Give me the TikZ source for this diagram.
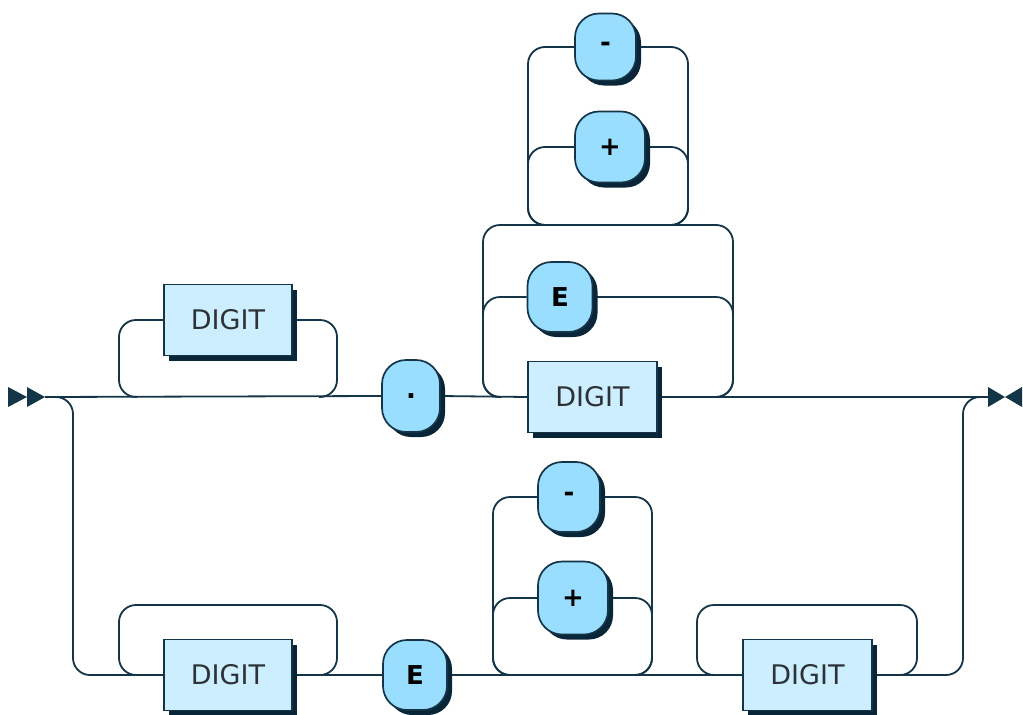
\documentclass[tikz,border=0pt]{standalone}
\usepackage{fontspec}
\setmainfont{DejaVu Sans}
\usetikzlibrary{shadows}
\definecolor{lc}{RGB}{20,52,72}
\definecolor{shc}{RGB}{8,38,56}
\definecolor{termfill}{RGB}{153,221,255}
\definecolor{ntfill}{RGB}{204,238,255}
\definecolor{ntext}{RGB}{45,50,55}
\pgfdeclarelayer{bg}
\pgfsetlayers{bg,main}
\tikzset{
  term/.style={draw=lc, line width=1.7pt, fill=termfill, rounded corners=24pt,
    minimum height=70pt, inner sep=0pt, text=black,
    font=\fontsize{26}{30}\selectfont\bfseries,
    drop shadow={shadow xshift=5pt,shadow yshift=-5pt,fill=shc,opacity=1}},
  nterm/.style={draw=lc, line width=1.7pt, fill=ntfill, rectangle,
    minimum width=128pt, minimum height=71pt, inner sep=0pt, text=ntext,
    font=\fontsize{27}{30}\selectfont,
    drop shadow={shadow xshift=5pt,shadow yshift=-5pt,fill=shc,opacity=1}},
  rail/.style={draw=lc, line width=1.8pt, rounded corners=17pt},
  tip/.style={fill=lc, draw=none}
}
\begin{document}
\begin{tikzpicture}[x=1pt,y=-1pt]
\useasboundingbox (0,0) rectangle (1023,715);
% nodes
\node[nterm] (d1) at (228,320) {DIGIT};
\node[term, minimum width=58pt, minimum height=72pt] (dot) at (411,396) {.};
\node[term, minimum width=65pt] (e1) at (560,297) {E};
\node[nterm, minimum width=129pt] (d2) at (592.5,397) {DIGIT};
\node[term, minimum width=61pt, minimum height=67pt] (m1) at (605.5,47) {-};
\node[term, minimum width=70pt, minimum height=71pt] (p1) at (610,147) {+};
\node[nterm] (d3) at (228,675) {DIGIT};
\node[term, minimum width=64pt] (e2) at (415,675) {E};
\node[term, minimum width=62pt] (m2) at (569,497) {-};
\node[term, minimum width=70pt, minimum height=73pt] (p2) at (573,598) {+};
\node[nterm, minimum width=129pt] (d4) at (807.5,675) {DIGIT};
\coordinate (start) at (45,397);
\coordinate (end) at (988,397);
% start / end marks
\fill[tip] (8,387) -- (27,397) -- (8,407) -- cycle;
\fill[tip] (27,387) -- (45,397) -- (27,407) -- cycle;
\fill[tip] (988,387) -- (1005,397) -- (988,407) -- cycle;
\fill[tip] (1022,387) -- (1005,397) -- (1022,407) -- cycle;
\begin{pgfonlayer}{bg}
% main line
\draw[rail] (start) -- (dot.west);
\draw[rail] (dot.east) -- (d2.west);
\draw[rail] (d2.east) -- (end);
% loop over first DIGIT
\draw[rail] (137,397) -- (119,397) -- (119,320) -- (d1.west);
\draw[rail] (d1.east) -- (337,320) -- (337,397) -- (319,397);
% outer group after dot
\draw[rail] (501,397) -- (483,397) -- (483,225) -- (733,225) -- (733,397) -- (715,397);
\draw[rail] (501,397) -- (483,397) -- (483,297) -- (e1.west);
\draw[rail] (e1.east) -- (733,297) -- (733,397) -- (715,397);
% upper sign group
\draw[rail] (546,225) -- (528,225) -- (528,47) -- (m1.west);
\draw[rail] (m1.east) -- (688,47) -- (688,225) -- (670,225);
\draw[rail] (546,225) -- (528,225) -- (528,147) -- (p1.west);
\draw[rail] (p1.east) -- (688,147) -- (688,225) -- (670,225);
% lower branch
\draw[rail] (start) -- (73,397) -- (73,675) -- (d3.west);
\draw[rail] (137,675) -- (119,675) -- (119,605) -- (337,605) -- (337,675) -- (319,675);
\draw[rail] (d3.east) -- (e2.west);
\draw[rail] (e2.east) -- (d4.west);
\draw[rail] (511,675) -- (493,675) -- (493,497) -- (m2.west);
\draw[rail] (m2.east) -- (652,497) -- (652,675) -- (634,675);
\draw[rail] (511,675) -- (493,675) -- (493,598) -- (p2.west);
\draw[rail] (p2.east) -- (652,598) -- (652,675) -- (634,675);
\draw[rail] (715,675) -- (697,675) -- (697,605) -- (917,605) -- (917,675) -- (899,675);
\draw[rail] (d4.east) -- (963,675) -- (963,397) -- (end);
\end{pgfonlayer}
\end{tikzpicture}
\end{document}
